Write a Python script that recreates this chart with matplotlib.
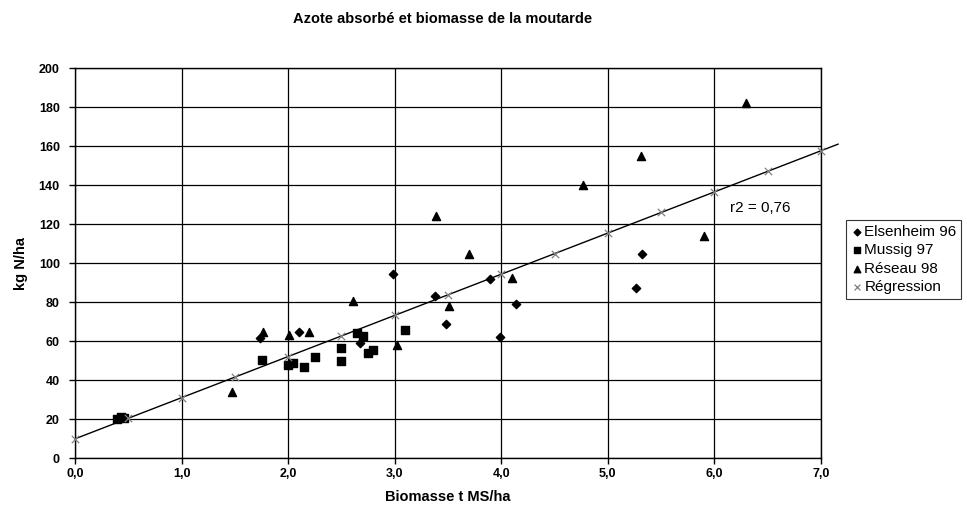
import matplotlib
matplotlib.use("Agg")
import matplotlib.pyplot as plt
from matplotlib.ticker import FuncFormatter

plt.rcParams['font.family'] = ['Liberation Sans', 'DejaVu Sans']

# Data
els_x = [1.74, 2.10, 2.67, 2.98, 3.38, 3.48, 3.89, 3.99, 4.14, 5.26, 5.32]
els_y = [61.6, 65.0, 59.2, 94.5, 83.0, 69.1, 92.1, 62.3, 79.2, 87.1, 104.9]

mus_x = [0.39, 0.43, 0.46, 1.75, 2.00, 2.05, 2.15, 2.25, 2.50, 2.50, 2.65, 2.70, 2.75, 2.80, 3.10]
mus_y = [20.0, 21.4, 20.8, 50.5, 48.1, 49.1, 46.7, 52.2, 56.8, 50.0, 64.5, 62.5, 53.9, 55.3, 65.7]

res_x = [1.47, 1.76, 2.01, 2.20, 2.61, 3.02, 3.39, 3.51, 3.70, 4.10, 4.77, 5.31, 5.90, 6.30]
res_y = [34.2, 65.0, 63.3, 64.7, 80.9, 58.2, 124.1, 78.2, 104.9, 92.4, 140.0, 154.9, 114.1, 182.3]

reg_x = [0.0, 0.5, 1.0, 1.5, 2.0, 2.5, 3.0, 3.5, 4.0, 4.5, 5.0, 5.5, 6.0, 6.5, 7.0]
reg_y = [10.0, 20.6, 31.1, 41.7, 52.2, 62.8, 73.3, 83.9, 94.4, 105.0, 115.5, 126.1, 136.6, 147.2, 157.7]

# trend line end points (line extends past the plot area)
trend_x = [0.0, 7.16]
trend_y = [10.0, 161.1]

x_ticks = [0, 1, 2, 3, 4, 5, 6, 7]
y_ticks = [0, 20, 40, 60, 80, 100, 120, 140, 160, 180, 200]

fig = plt.figure(figsize=(9.67, 5.11), dpi=100)
ax = fig.add_axes([0.0776, 0.1031, 0.7714, 0.7632])

ax.plot(trend_x, trend_y, color='black', lw=1.0, clip_on=False, zorder=3)
ax.scatter(els_x, els_y, marker='D', s=18, color='black', zorder=4, label='Elsenheim 96', clip_on=False)
ax.scatter(mus_x, mus_y, marker='s', s=30, color='black', zorder=4, label='Mussig 97', clip_on=False)
ax.scatter(res_x, res_y, marker='^', s=34, color='black', zorder=4, label='Réseau 98', clip_on=False)
ax.scatter(reg_x, reg_y, marker='x', s=28, color='#808080', linewidths=0.9, zorder=5, label='Régression', clip_on=False)

ax.set_xlim(0, 7)
ax.set_ylim(0, 200)
ax.set_xticks(x_ticks)
ax.set_yticks(y_ticks)
ax.xaxis.set_major_formatter(FuncFormatter(lambda v, p: f"{v:.1f}".replace('.', ',')))
ax.grid(True, color='black', lw=0.9)
ax.set_axisbelow(True)
for sp in ax.spines.values():
    sp.set_color('black')
    sp.set_linewidth(1.0)
ax.tick_params(direction='out', length=4, width=1, colors='black', labelsize=9, pad=3)
ax.tick_params(axis='y', pad=7)
for lab in ax.get_xticklabels() + ax.get_yticklabels():
    lab.set_fontweight('bold')

ax.set_xlabel('Biomasse t MS/ha', fontsize=10.5, fontweight='bold', labelpad=7)
ax.set_ylabel('kg N/ha', fontsize=10.5, fontweight='bold', labelpad=8)
fig.text(0.458, 0.962, 'Azote absorbé et biomasse de la moutarde', ha='center', va='center',
         fontsize=10.5, fontweight='bold')

ax.text(6.15, 128.5, 'r2 = 0,76', fontsize=11, ha='left', va='center')

leg = ax.legend(loc='upper left', bbox_to_anchor=(0.8749, 0.5695), bbox_transform=fig.transFigure,
                frameon=True, fancybox=False, edgecolor='black', fontsize=11,
                handletextpad=0.1, handlelength=0.8, borderpad=0.3, labelspacing=0.3,
                borderaxespad=0, scatterpoints=1, markerscale=0.8)
leg.get_frame().set_linewidth(0.8)

fig.savefig('out.png', dpi=100)
